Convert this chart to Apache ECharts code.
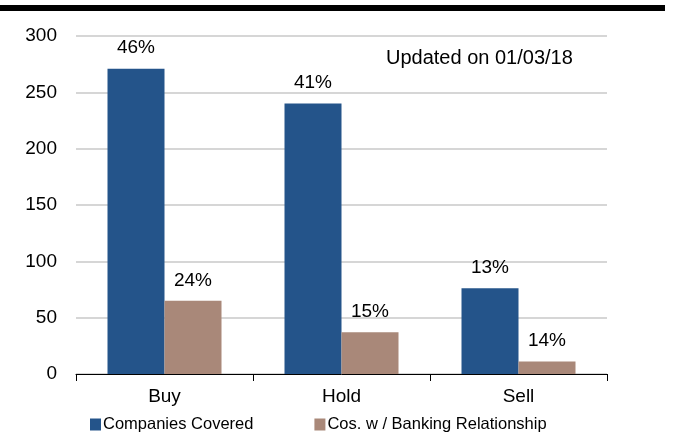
<!DOCTYPE html>
<html>
<head>
<meta charset="utf-8">
<script src="https://cdn.jsdelivr.net/npm/echarts@6/dist/echarts.min.js"></script>
<style>
  html, body { margin: 0; padding: 0; background: #fff; }
  #chart { width: 679px; height: 437px; }
</style>
</head>
<body>
<div id="chart"></div>
<script>
var categories = ['Buy', 'Hold', 'Sell'];
var covered = [271, 240, 76];
var banking = [65, 37, 11];
var coveredPct = ['46%', '41%', '13%'];
var bankingPct = ['24%', '15%', '14%'];
var yTicks = [0, 50, 100, 150, 200, 250, 300];

var fontFam = '"Liberation Sans", Arial, sans-serif';

var chart = echarts.init(document.getElementById('chart'));
chart.setOption({
    animation: false,
    textStyle: { fontFamily: fontFam },
    grid: { left: 76, right: 72, top: 36, bottom: 63 },
    graphic: [
        // black rule at the top
        { type: 'rect', left: 0, top: 5, shape: { width: 665, height: 6 }, style: { fill: '#000' } },
        { type: 'text', left: 386, top: 48, style: { text: 'Updated on 01/03/18', fill: '#000', font: '20px ' + fontFam } }
    ],
    legend: {
        top: 416,
        left: 90,
        padding: 0,
        itemWidth: 11,
        itemHeight: 12,
        itemGap: 61,
        icon: 'rect',
        textStyle: { fontSize: 16.5, color: '#000', padding: [0, 0, 0, -3] },
        data: ['Companies Covered', 'Cos. w / Banking Relationship']
    },
    xAxis: {
        type: 'category',
        data: categories,
        axisLine: { lineStyle: { color: '#000', width: 1 } },
        axisTick: { show: true, length: 7, lineStyle: { color: '#000' } },
        axisLabel: { color: '#000', fontSize: 19, margin: 13 }
    },
    yAxis: {
        type: 'value',
        min: yTicks[0],
        max: yTicks[yTicks.length - 1],
        interval: 50,
        axisLine: { show: false },
        axisTick: { show: false },
        axisLabel: { color: '#000', fontSize: 19, margin: 19 },
        splitLine: { lineStyle: { color: '#c8c8c8', width: 1.5 } }
    },
    series: [
        {
            name: 'Companies Covered',
            type: 'bar',
            data: covered,
            barWidth: 57,
            barGap: '0%',
            itemStyle: { color: '#24548a' },
            label: {
                show: true, position: 'top', distance: 11, fontSize: 19, color: '#000',
                formatter: function (p) { return coveredPct[p.dataIndex]; }
            }
        },
        {
            name: 'Cos. w / Banking Relationship',
            type: 'bar',
            data: banking,
            barWidth: 57,
            barGap: '0%',
            itemStyle: { color: '#a98879' },
            label: {
                show: true, position: 'top', distance: 11, fontSize: 19, color: '#000',
                formatter: function (p) { return bankingPct[p.dataIndex]; }
            }
        }
    ]
});
</script>
</body>
</html>
